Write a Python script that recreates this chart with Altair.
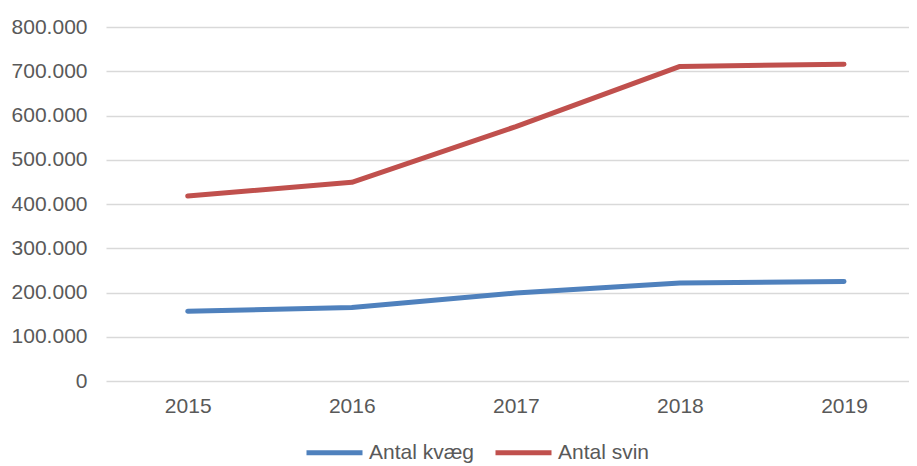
import altair as alt
import pandas as pd

years = [2015, 2016, 2017, 2018, 2019]
kvaeg = [157500, 166000, 199000, 221500, 225000]
svin = [418000, 449000, 575000, 711000, 716000]
series_names = ["Antal kvæg", "Antal svin"]
series_colors = ["#4F81BD", "#C0504D"]
y_ticks = [0, 100000, 200000, 300000, 400000, 500000, 600000, 700000, 800000]

rows = []
for y, v in zip(years, kvaeg):
    rows.append({"year": y, "value": v, "series": series_names[0]})
for y, v in zip(years, svin):
    rows.append({"year": y, "value": v, "series": series_names[1]})
df = pd.DataFrame(rows)

FONT = "Liberation Sans"
TXT = "#595959"

chart = alt.Chart(df).mark_line(strokeWidth=5, strokeCap="round", strokeJoin="round").encode(
    x=alt.X("year:Q",
            scale=alt.Scale(domain=[2014.502, 2019.396], nice=False, zero=False),
            axis=alt.Axis(values=years, format="d", title=None, grid=False, ticks=False,
                          domain=False, labelFontSize=21, labelColor=TXT, labelFont=FONT,
                          labelPadding=14)),
    y=alt.Y("value:Q",
            scale=alt.Scale(domain=[0, 800000], nice=False),
            axis=alt.Axis(values=y_ticks, title=None, ticks=False, domain=False,
                          labelExpr="replace(format(datum.value, ','), ',', '.')",
                          labelFontSize=21, labelColor=TXT, labelFont=FONT, labelPadding=19,
                          gridColor="#d9d9d9", gridWidth=1.3)),
    color=alt.Color("series:N",
                    scale=alt.Scale(domain=series_names, range=series_colors),
                    legend=alt.Legend(title=None, orient="none", direction="horizontal",
                                      legendX=198, legendY=395, symbolType="stroke",
                                      symbolSize=3136, symbolStrokeWidth=5,
                                      labelFontSize=21, labelColor=TXT, labelFont=FONT,
                                      labelOffset=4, columnPadding=10, padding=0)),
).properties(
    width=803,
    height=354,
    autosize=alt.AutoSizeParams(type="none"),
    padding={"left": 98, "top": 19, "right": 0, "bottom": 89},
).configure_view(stroke=None)

chart.save("out.html", embed_options={"renderer": "svg", "actions": False})
